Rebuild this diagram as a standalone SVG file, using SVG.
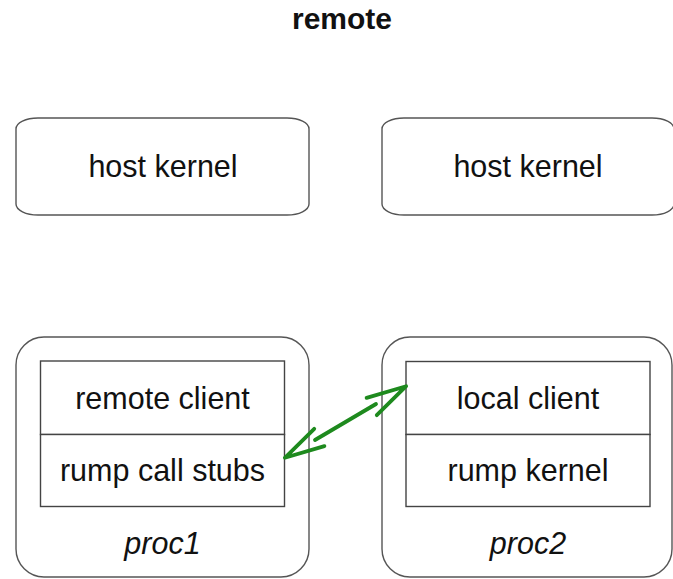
<svg xmlns="http://www.w3.org/2000/svg" width="673" height="579" viewBox="0 0 673 579">
<style>
  .host { fill: #fff; stroke: #555; stroke-width: 1.4; }
  .proc { fill: #fff; stroke: #555; stroke-width: 1.4; }
  .cell { fill: #fff; stroke: #444; stroke-width: 1.4; }
  .lbl { font-family: "Liberation Sans", Arial, sans-serif; font-size: 30.5px; fill: #111; text-anchor: middle; }
  .it { font-style: italic; }
  .title { font-family: "Liberation Sans", Arial, sans-serif; font-size: 30px; font-weight: bold; fill: #111; text-anchor: middle; }
  .conn { fill: none; stroke: #1e8a1e; stroke-width: 3.8; stroke-linecap: round; stroke-linejoin: round; }
</style>
<defs>
  <marker id="openHead" markerUnits="userSpaceOnUse" orient="auto-start-reverse" refX="0" refY="0" markerWidth="60" markerHeight="30" viewBox="-10 -15 60 30" overflow="visible">
    <path d="M -5 -10 L 35 0 L -5 10" fill="none" stroke="#1e8a1e" stroke-width="3.8" stroke-linecap="round" stroke-linejoin="round"/>
  </marker>
</defs>
<rect width="673" height="579" fill="#fff"/>
<text class="title" x="342" y="29">remote</text>

<g id="host1">
  <rect class="host" x="16" y="118" width="293" height="97" rx="22" ry="11"/>
  <text class="lbl" x="163" y="177">host kernel</text>
</g>
<g id="host2">
  <rect class="host" x="382" y="118" width="292" height="97" rx="22" ry="11"/>
  <text class="lbl" x="528" y="177">host kernel</text>
</g>

<g id="proc1">
  <rect class="proc" x="16" y="337" width="293" height="240" rx="28" ry="28"/>
  <text class="lbl it" x="162.5" y="554">proc1</text>
</g>
<g id="remote-client">
  <rect class="cell" x="40.5" y="361" width="244" height="73.5"/>
  <text class="lbl" x="162.5" y="409">remote client</text>
</g>
<g id="rump-call-stubs">
  <rect class="cell" x="40.5" y="434.5" width="244" height="72"/>
  <text class="lbl" x="162.5" y="481">rump call stubs</text>
</g>

<g id="proc2">
  <rect class="proc" x="382" y="337" width="290" height="240" rx="28" ry="28"/>
  <text class="lbl it" x="528" y="554">proc2</text>
</g>
<g id="local-client">
  <rect class="cell" x="406" y="361.5" width="244" height="73"/>
  <text class="lbl" x="528" y="409">local client</text>
</g>
<g id="rump-kernel">
  <rect class="cell" x="406" y="434.5" width="244" height="72"/>
  <text class="lbl" x="528" y="481">rump kernel</text>
</g>

<g id="connectors">
  <path class="conn" d="M 315 440 L 376 404" marker-start="url(#openHead)" marker-end="url(#openHead)"/>
</g>
</svg>
